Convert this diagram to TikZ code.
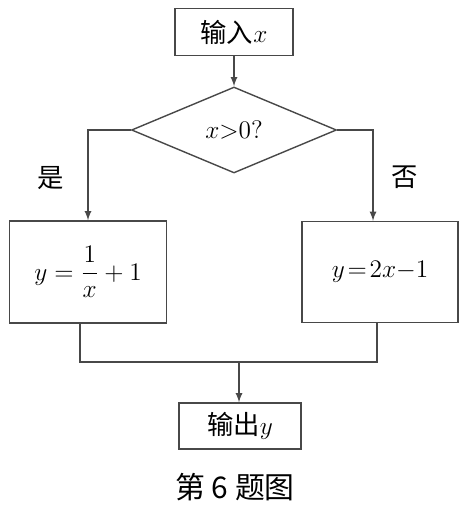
\documentclass[tikz,border=0pt]{standalone}
\usepackage{amsmath}
\usepackage{fontspec}
\newfontfamily\cjk{Noto Sans CJK SC}
\usetikzlibrary{arrows,shapes.geometric}
\definecolor{ink}{RGB}{72,72,72}
\tikzset{
  box/.style={draw=ink,line width=0.8pt,inner sep=0pt,font=\cjk\fontsize{15}{18}\selectfont},
  cond/.style={box,diamond},
  link/.style={draw=ink,line width=0.8pt},
  arr/.style={link,-latex}
}

\begin{document}
\begin{tikzpicture}[x=0.02cm,y=-0.02cm]
\useasboundingbox (0,0) rectangle (465,509);

\node[box,minimum width=2.36cm,minimum height=0.94cm] (in) at (234,32) {输入$x$};
\node[cond,minimum width=4.1cm,minimum height=1.72cm] (test) at (234,130) {$x{>}0?$};
\node[box,minimum width=3.14cm,minimum height=2.04cm] (ybox) at (88,272) {$y=\dfrac{1}{x}+1$};
\node[box,minimum width=3.12cm,minimum height=2.02cm] (nbox) at (380,272) {$y\mkern2mu{=}\mkern2mu2x{-}1$};
\node[box,minimum width=2.44cm,minimum height=0.92cm] (out) at (240,426) {输出$y$};
\node[font=\cjk\fontsize{15}{18}\selectfont] (yes) at (51,178) {是};
\node[font=\cjk\fontsize{15}{18}\selectfont] (no) at (405,177) {否};
\node[font=\cjk\fontsize{17}{20}\selectfont] (cap) at (235,487) {第 6 题图};

\coordinate (m) at (239,362);

\draw[arr] (in) -- (test);
\draw[arr] (test.west) -| (ybox.north);
\draw[arr] (test.east) -| ([xshift=-0.14cm]nbox.north);
\draw[link] ([xshift=-0.16cm]ybox.south) |- (m) -| ([xshift=-0.06cm]nbox.south);
\draw[arr] (m) -- (out.north -| m);

\end{tikzpicture}
\end{document}
